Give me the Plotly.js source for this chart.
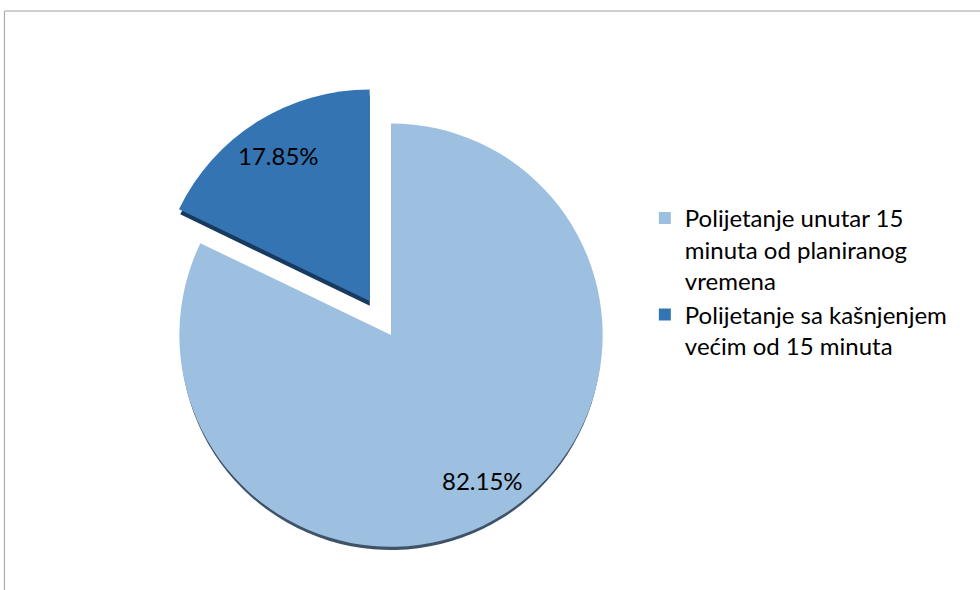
<!DOCTYPE html>
<html>
<head>
<meta charset="utf-8">
<script src="https://cdn.plot.ly/plotly-3.0.1.min.js"></script>
<style>html,body{margin:0;padding:0;background:#fff;}#chart{width:980px;height:590px;}</style>
</head>
<body>
<div id="chart"></div>
<script>
const categories = [
  "Polijetanje unutar 15<br>minuta od planiranog<br>vremena",
  "Polijetanje sa kašnjenjem<br>većim od 15 minuta"
];
const values = [82.15, 17.85];
const sliceColors = ["#9dbfe0", "#3474b3"];
const rimColors = ["#3f5368", "#183a5e"];
const pulls = [0, 0.19];

const W = 980, H = 590;
const dom = {x: [0.142, 0.656], y: [0.005, 0.859]};
const shift = 6 / H;
const FONT = "Lato, 'Open Sans', sans-serif";

const back = {
  type: "pie",
  labels: categories,
  values: values,
  sort: false,
  direction: "clockwise",
  rotation: 0,
  pull: pulls,
  marker: {colors: rimColors, line: {width: 0}},
  textinfo: "none",
  hoverinfo: "skip",
  showlegend: false,
  domain: {x: dom.x, y: [dom.y[0] - shift, dom.y[1] - shift]}
};

const front = {
  type: "pie",
  labels: categories,
  values: values,
  sort: false,
  direction: "clockwise",
  rotation: 0,
  pull: pulls,
  marker: {colors: sliceColors, line: {width: 0}},
  textinfo: "none",
  hoverinfo: "skip",
  domain: dom
};

// Percent labels placed along each slice's mid-angle (derived from the values)
const total = values.reduce((a, b) => a + b, 0);
const cx = (dom.x[0] + dom.x[1]) / 2 * W;
const cy = (1 - (dom.y[0] + dom.y[1]) / 2) * H;
const maxPull = Math.max(...pulls);
const r = Math.min((dom.x[1] - dom.x[0]) * W, (dom.y[1] - dom.y[0]) * H) / (2 * (1 + maxPull));
const labelFrac = 0.81;
let cum = 0;
const annotations = values.map((v, i) => {
  const mid = (cum + v / 2) / total * 2 * Math.PI;
  cum += v;
  const dist = r * (labelFrac + pulls[i]);
  const px = cx + dist * Math.sin(mid);
  const py = cy - dist * Math.cos(mid);
  return {
    xref: "paper", yref: "paper", x: px / W, y: 1 - py / H,
    xanchor: "center", yanchor: "middle", showarrow: false,
    text: v.toFixed(2) + "%",
    font: {family: FONT, size: 24, color: "#000"}
  };
});

const layout = {
  width: W,
  height: H,
  margin: {l: 0, r: 0, t: 0, b: 0},
  paper_bgcolor: "#fff",
  showlegend: true,
  legend: {
    x: 0.658, y: 0.668, xanchor: "left", yanchor: "top",
    font: {family: FONT, size: 24, color: "#000"},
    bgcolor: "rgba(0,0,0,0)",
    valign: "top",
    itemwidth: 30
  },
  annotations: annotations,
  shapes: [{
    type: "rect", xref: "paper", yref: "paper",
    x0: 0.0045, x1: 1.02, y0: -0.02, y1: 1 - 11 / H,
    line: {color: "#a0a0a0", width: 1}, fillcolor: "rgba(0,0,0,0)", layer: "below"
  }]
};

Plotly.newPlot("chart", [back, front], layout, {displayModeBar: false, staticPlot: true});
</script>
</body>
</html>
